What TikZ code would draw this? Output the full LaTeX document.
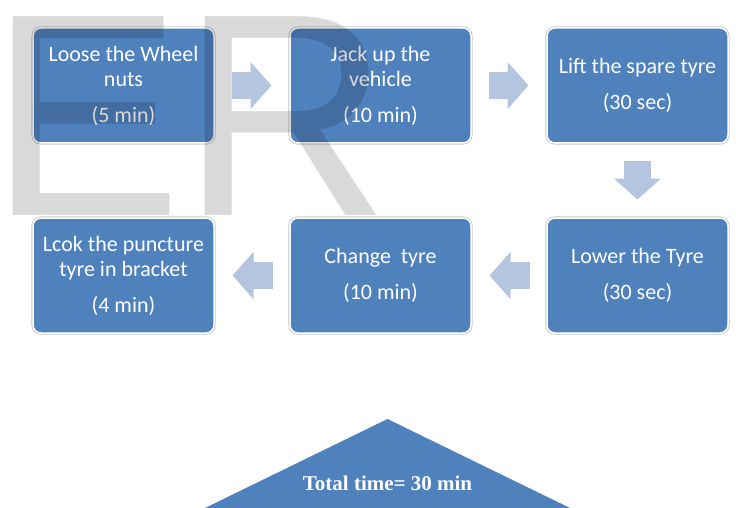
\documentclass[tikz,border=0pt]{standalone}
\usepackage{fontspec}
\setmainfont{Carlito}
\newfontfamily\markfont{Liberation Sans}
\newfontfamily\totalfont{Liberation Serif}
\usepackage{tikz}
\usetikzlibrary{positioning,arrows.meta,calc}
\definecolor{boxblue}{RGB}{79, 129, 189}
\definecolor{arrowblue}{RGB}{180, 197, 223}

\begin{document}
\begin{tikzpicture}[
    x=1pt, y=-1pt,
    node distance=75pt and 76pt,
    every node/.style={align=center},
    taskbox/.style={rectangle, rounded corners=8pt, minimum width=181pt, minimum height=115pt, outer sep=0pt,
        fill=boxblue, draw=white, line width=1.5pt, preaction={draw=black!22, line width=3.2pt},
        text=white, font=\fontsize{22}{25}\selectfont},
    flowarrow/.style={draw=arrowblue, line width=27pt, -{Triangle[length=21pt, width=46pt]},
        shorten <=17.5pt, shorten >=18.5pt},
    watermark/.style={inner sep=0pt, anchor=base west, text=black, text opacity=0.15,
        font=\markfont\fontsize{289}{289}\selectfont}
]
\useasboundingbox (0,0) rectangle (736,508);

% Top row of steps
\node[taskbox] (loose) at (123.5,85.5) {Loose the Wheel\\nuts\\[11pt](5 min)};
\node[taskbox, right=of loose] (jack) {Jack up the\\vehicle\\[11pt](10 min)};
\node[taskbox, right=of jack] (lift) {Lift the spare tyre\\[11pt](30 sec)};

% Bottom row of steps
\node[taskbox, below=of lift] (lower) {Lower the Tyre\\[11pt](30 sec)};
\node[taskbox, left=of lower] (change) {Change~ tyre\\[11pt](10 min)};
\node[taskbox, left=of change] (lock) {Lcok the puncture\\tyre in bracket\\[11pt](4 min)};

% Block arrows between steps
\draw[flowarrow] (loose) -- (jack);
\draw[flowarrow] (jack) -- (lift);
\draw[flowarrow] (lift) -- (lower);
\draw[flowarrow] (lower) -- (change);
\draw[flowarrow] (change) -- (lock);

% Total time
\fill[boxblue] (205,508) -- (387.5,419) -- (570,508) -- cycle;
\node[text=white, anchor=base, inner sep=0pt, font=\totalfont\bfseries\fontsize{21}{24}\selectfont] (total) at (387.5,490) {Total time= 30 min};

% Watermark
\node[watermark] (mark) at (-11,215) {ER};

\end{tikzpicture}
\end{document}
